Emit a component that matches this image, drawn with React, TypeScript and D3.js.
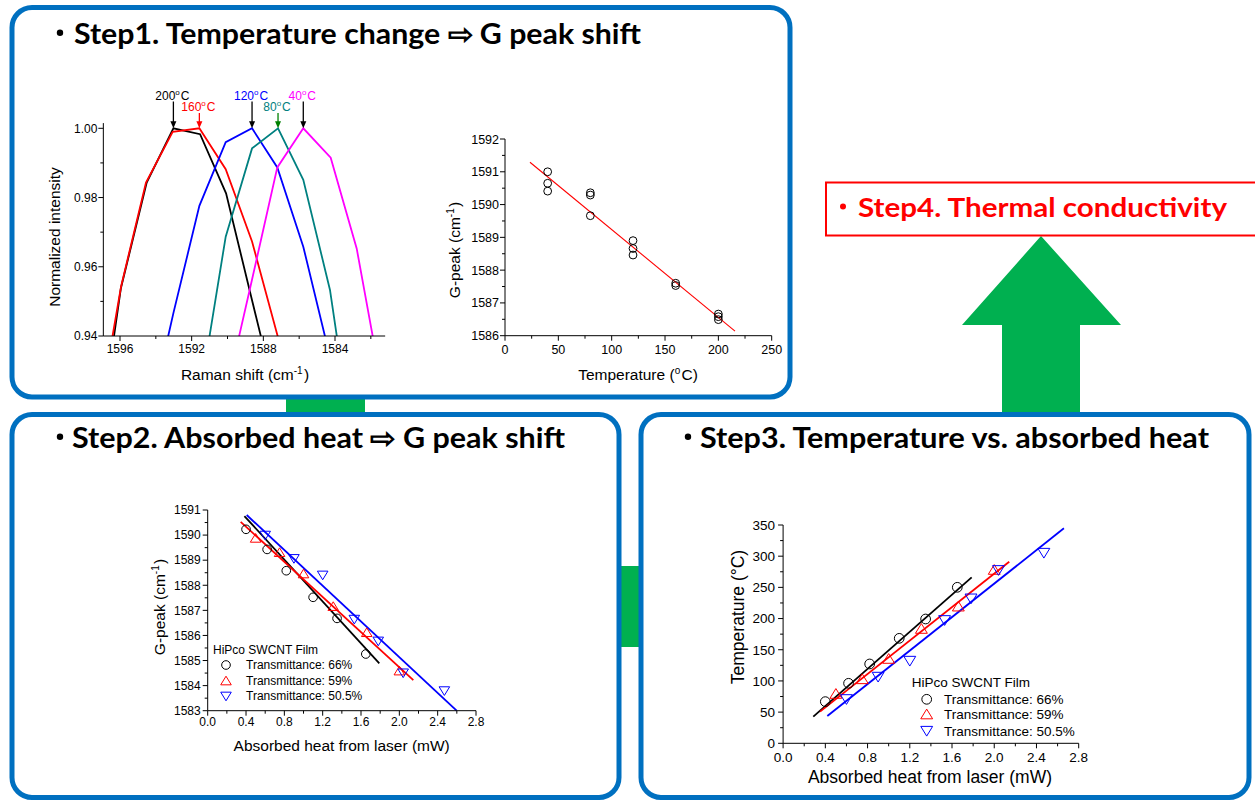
import React from "react";
import * as d3 from "d3";

// ---------------- DATA ----------------
// Step 1 (left): Raman spectra, [wavenumber, normalized intensity]
const ramanTemps = ["200", "160", "120", "80", "40"];
const raman200 = [[1597.5, 0.898], [1595.95, 0.9538], [1594.51, 0.9843], [1593.02, 1.0], [1591.53, 0.9983], [1590.08, 0.9812], [1588.6, 0.9497], [1587.1, 0.918]];
const raman160 = [[1597.4, 0.9105], [1595.94, 0.9543], [1594.55, 0.9843], [1593.06, 0.999], [1591.57, 1.0], [1590.1, 0.9882], [1588.63, 0.9673], [1587.15, 0.939]];
const raman120 = [[1594.5, 0.9128], [1593.02, 0.9466], [1591.57, 0.9776], [1590.1, 0.996], [1588.63, 1.0], [1587.22, 0.9887], [1585.77, 0.9658], [1584.32, 0.9348]];
const raman80 = [[1591.55, 0.9225], [1590.1, 0.9687], [1588.63, 0.9942], [1587.18, 1.0], [1585.77, 0.9851], [1584.28, 0.9533], [1582.8, 0.9015]];
const raman40 = [[1590.1, 0.923], [1588.63, 0.9563], [1587.22, 0.9887], [1585.77, 1.0], [1584.24, 0.9915], [1582.79, 0.9653], [1581.34, 0.9242]];
const ramanSeries = [raman200, raman160, raman120, raman80, raman40];
const ramanXTicks = [1596, 1592, 1588, 1584];
const ramanXMinor = [1594, 1590, 1586, 1582];
const ramanXExtent = [1596.93, 1581.2];
const ramanYTicks = [0.94, 0.96, 0.98, 1.0];
const ramanYMinor = [0.95, 0.97, 0.99];
const ramanYExtent = [0.94, 1.0015];

// Step 1 (right): G-peak vs temperature
const calTemp = [40, 40, 40, 80, 80, 80, 120, 120, 120, 160, 160, 200, 200, 200];
const calPeak = [1591.0, 1590.65, 1590.41, 1590.36, 1590.29, 1589.66, 1588.9, 1588.66, 1588.46, 1587.6, 1587.53, 1586.66, 1586.58, 1586.49];
const calFitTemp = [23.4, 215.6];
const calFitPeak = [1591.29, 1586.14];
const calXTicks = [0, 50, 100, 150, 200, 250];
const calXMinor = [25, 75, 125, 175, 225];
const calYTicks = [1586, 1587, 1588, 1589, 1590, 1591, 1592];
const calYMinor = [1586.5, 1587.5, 1588.5, 1589.5, 1590.5, 1591.5];

// Step 2 & 3: absorbed heat (mW)
const legendNames = ["Transmittance: 66%", "Transmittance: 59%", "Transmittance: 50.5%"];
const power66 = [0.4, 0.62, 0.82, 1.1, 1.35, 1.65];
const power59 = [0.5, 0.75, 1.0, 1.31, 1.66, 2.0];
const power50 = [0.6, 0.9, 1.2, 1.53, 1.78, 2.04, 2.47];
// Step 2: G-peak
const peak66 = [1590.23, 1589.43, 1588.58, 1587.52, 1586.68, 1585.26];
const peak59 = [1589.87, 1589.3, 1588.45, 1587.15, 1586.11, 1584.58];
const peak50 = [1590.0, 1589.07, 1588.41, 1586.65, 1585.78, 1584.51, 1583.8];
const fitPeakP66 = [0.383, 1.791], fitPeakG66 = [1590.76, 1584.89];
const fitPeakP59 = [0.344, 2.146], fitPeakG59 = [1590.53, 1584.22];
const fitPeakP50 = [0.407, 2.598], fitPeakG50 = [1590.8, 1583.0];
const heatTicks = [0, 0.4, 0.8, 1.2, 1.6, 2.0, 2.4, 2.8];
const heatMinor = [0.2, 0.6, 1.0, 1.4, 1.8, 2.2, 2.6];
const peak2Ticks = [1583, 1584, 1585, 1586, 1587, 1588, 1589, 1590, 1591];
const peak2Minor = [1583.5, 1584.5, 1585.5, 1586.5, 1587.5, 1588.5, 1589.5, 1590.5];
// Step 3: temperature
const temp66 = [66.8, 96.2, 127.2, 168.3, 199.3, 250.1];
const temp59 = [79.1, 102.6, 135.2, 183.3, 219.1, 277.9];
const temp50 = [71, 106.9, 132.5, 197.7, 232.4, 277.9, 305.6];
const fitTempP66 = [0.286, 1.786], fitTempT66 = [42.7, 266.1];
const fitTempP59 = [0.35, 2.142], fitTempT59 = [50.8, 291.2];
const fitTempP50 = [0.419, 2.66], fitTempT50 = [43.8, 344.7];
const tempTicks = [0, 50, 100, 150, 200, 250, 300, 350];
const tempMinor = [25, 75, 125, 175, 225, 275, 325];

// ---------------- STYLE ----------------
const FONT = "'Liberation Sans', Arial, sans-serif";
const TFONT = "Lato, Carlito, Calibri, sans-serif";
const BLUE = "#0070C0";
const GREEN = "#00B050";
const ramanColors = ["#000000", "#FF0000", "#0000FF", "#008080", "#FF00FF"];
const ramanArrowColors = ["#000000", "#FF0000", "#000000", "#008000", "#000000"];
const seriesColors = ["#000000", "#FF0000", "#0000FF"];

// ---------------- SCALES ----------------
const xA = d3.scaleLinear().domain([1596, 1584]).range([120, 335]);
const yA = d3.scaleLinear().domain([0.94, 1.0]).range([336, 128.3]);
const xB = d3.scaleLinear().domain([0, 250]).range([505, 771.7]);
const yB = d3.scaleLinear().domain([1586, 1592]).range([335.7, 139]);
const xC = d3.scaleLinear().domain([0, 2.8]).range([207.7, 476]);
const yC = d3.scaleLinear().domain([1583, 1591]).range([710.7, 510]);
const xD = d3.scaleLinear().domain([0, 2.8]).range([783.1, 1078.7]);
const yD = d3.scaleLinear().domain([0, 350]).range([743.3, 525]);

function AxisBottom({ sx, sy, ticks, minor, fmt, fs, off }: any) {
  const y = sy.range()[0];
  const d = sx.range();
  return (
    <g stroke="#000" strokeWidth={1}>
      <line x1={Math.min(...d)} x2={Math.max(...d)} y1={y} y2={y} />
      {ticks.map((t: number) => (
        <line key={"M" + t} x1={sx(t)} x2={sx(t)} y1={y} y2={y + 5} />
      ))}
      {minor.map((t: number) => (
        <line key={"m" + t} x1={sx(t)} x2={sx(t)} y1={y} y2={y + 3} />
      ))}
      {ticks.map((t: number) => (
        <text key={"l" + t} x={sx(t)} y={y + off + fs * 0.36} textAnchor="middle" fontSize={fs} fontFamily={FONT} stroke="none" fill="#000">
          {fmt(t)}
        </text>
      ))}
    </g>
  );
}

function AxisLeft({ sx, sy, ticks, minor, fmt, fs, off, top }: any) {
  const x = sx.range()[0];
  const y0 = sy.range()[0];
  const y1 = top !== undefined ? sy(top) : sy.range()[1];
  return (
    <g stroke="#000" strokeWidth={1}>
      <line x1={x} x2={x} y1={y0} y2={y1} />
      {ticks.map((t: number) => (
        <line key={"M" + t} x1={x - 5} x2={x} y1={sy(t)} y2={sy(t)} />
      ))}
      {minor.map((t: number) => (
        <line key={"m" + t} x1={x - 3} x2={x} y1={sy(t)} y2={sy(t)} />
      ))}
      {ticks.map((t: number) => (
        <text key={"l" + t} x={x - off} y={sy(t) + fs * 0.36} textAnchor="end" fontSize={fs} fontFamily={FONT} stroke="none" fill="#000">
          {fmt(t)}
        </text>
      ))}
    </g>
  );
}

function Marker({ kind, x, y, s, color }: any) {
  if (kind === 0) return <circle cx={x} cy={y} r={s * 0.9} fill="none" stroke={color} strokeWidth={1} />;
  const d =
    kind === 1
      ? `M${x},${y - s} L${x + s * 1.1},${y + s * 0.8} L${x - s * 1.1},${y + s * 0.8}Z`
      : `M${x},${y + s} L${x + s * 1.1},${y - s * 0.8} L${x - s * 1.1},${y - s * 0.8}Z`;
  return <path d={d} fill="none" stroke={color} strokeWidth={1} />;
}

function Sup({ children, fs, dy }: any) {
  return (
    <>
      <tspan dy={-dy} fontSize={fs}>{children}</tspan>
      <tspan dy={dy}>{"\u200A"}</tspan>
    </>
  );
}

function RamanChart() {
  const line = d3.line<number[]>().x((d) => xA(d[0])).y((d) => yA(d[1]));
  const top = yA(ramanYExtent[1]);
  return (
    <g>
      <defs>
        <clipPath id="clipA">
          <rect x={xA(ramanXExtent[0])} y={top - 10} width={xA(ramanXExtent[1]) - xA(ramanXExtent[0])} height={yA(0.94) - top + 10} />
        </clipPath>
      </defs>
      <g clipPath="url(#clipA)">
        {ramanSeries.map((s, i) => (
          <path key={i} d={line(s) || ""} fill="none" stroke={ramanColors[i]} strokeWidth={1.8} strokeLinejoin="miter" />
        ))}
      </g>
      <line x1={xA(ramanXExtent[0])} x2={xA(ramanXExtent[1])} y1={yA(0.94)} y2={yA(0.94)} stroke="#000" />
      <g stroke="#000">
        {ramanXTicks.map((t) => (
          <line key={t} x1={xA(t)} x2={xA(t)} y1={yA(0.94)} y2={yA(0.94) + 5} />
        ))}
        {ramanXMinor.map((t) => (
          <line key={t} x1={xA(t)} x2={xA(t)} y1={yA(0.94)} y2={yA(0.94) + 3} />
        ))}
      </g>
      {ramanXTicks.map((t) => (
        <text key={t} x={xA(t)} y={yA(0.94) + 13 + 4.3} textAnchor="middle" fontSize={12} fontFamily={FONT}>{t}</text>
      ))}
      <g stroke="#000">
        <line x1={xA(ramanXExtent[0])} x2={xA(ramanXExtent[0])} y1={yA(0.94)} y2={top} />
        {ramanYTicks.map((t) => (
          <line key={t} x1={xA(ramanXExtent[0]) - 5} x2={xA(ramanXExtent[0])} y1={yA(t)} y2={yA(t)} />
        ))}
        {ramanYMinor.map((t) => (
          <line key={t} x1={xA(ramanXExtent[0]) - 3} x2={xA(ramanXExtent[0])} y1={yA(t)} y2={yA(t)} />
        ))}
      </g>
      {ramanYTicks.map((t) => (
        <text key={t} x={xA(ramanXExtent[0]) - 6} y={yA(t) + 4.3} textAnchor="end" fontSize={12} fontFamily={FONT}>{t.toFixed(2)}</text>
      ))}
      <text transform={`translate(55,237) rotate(-90)`} textAnchor="middle" fontSize={15.5} fontFamily={FONT} dy={5}>Normalized intensity</text>
      <text x={245} y={380} textAnchor="middle" fontSize={15.5} fontFamily={FONT}>
        Raman shift (cm<Sup fs={10} dy={6}>-1</Sup>)
      </text>
      {ramanSeries.map((s, i) => {
        const peak = d3.greatest(s, (d) => d[1])!;
        const px = xA(peak[0]);
        const high = i % 2 === 0;
        const y0 = high ? 101.5 : 113;
        const yEnd = yA(peak[1]);
        return (
          <g key={i}>
            <line x1={px} x2={px} y1={y0} y2={yEnd - 5} stroke={ramanArrowColors[i]} strokeWidth={1.3} />
            <path d={`M${px - 3},${yEnd - 7} L${px + 3},${yEnd - 7} L${px},${yEnd}Z`} fill={ramanArrowColors[i]} />
            <text x={px - 1} y={high ? 99.5 : 111} textAnchor="middle" fontSize={12} fontFamily={FONT} fill={ramanColors[i]}>
              {ramanTemps[i]}
              <Sup fs={8} dy={5}>o</Sup>C
            </text>
          </g>
        );
      })}
    </g>
  );
}

function CalChart() {
  return (
    <g>
      <line x1={xB(calFitTemp[0])} y1={yB(calFitPeak[0])} x2={xB(calFitTemp[1])} y2={yB(calFitPeak[1])} stroke="#FF0000" strokeWidth={1.1} />
      {calTemp.map((t, i) => (
        <circle key={i} cx={xB(t)} cy={yB(calPeak[i])} r={3.9} fill="none" stroke="#000" strokeWidth={1} />
      ))}
      <AxisBottom sx={xB} sy={yB} ticks={calXTicks} minor={calXMinor} fmt={(t: number) => String(t)} fs={12.5} off={14} />
      <AxisLeft sx={xB} sy={yB} ticks={calYTicks} minor={calYMinor} fmt={(t: number) => String(t)} fs={12.5} off={6} />
      <text transform={`translate(455,250) rotate(-90)`} textAnchor="middle" fontSize={15.5} fontFamily={FONT} dy={5}>
        G-peak (cm<Sup fs={10} dy={6}>-1</Sup>)
      </text>
      <text x={638} y={380} textAnchor="middle" fontSize={15.5} fontFamily={FONT}>
        Temperature (<Sup fs={10} dy={6}>o</Sup>C)
      </text>
    </g>
  );
}

function HeatChart({ sx, sy, ys, fits, yTicks, yMinor, ms, fs, tfs, yTitle, yTitlePos, xTitlePos, legend, offs }: any) {
  const powers = [power66, power59, power50];
  return (
    <g>
      {fits.map((f: number[][], i: number) => (
        <line key={i} x1={sx(f[0][0])} y1={sy(f[1][0])} x2={sx(f[0][1])} y2={sy(f[1][1])} stroke={seriesColors[i]} strokeWidth={1.8} />
      ))}
      {ys.map((arr: number[], i: number) =>
        arr.map((v, j) => <Marker key={i + "-" + j} kind={i} x={sx(powers[i][j])} y={sy(v)} s={ms} color={seriesColors[i]} />)
      )}
      <AxisBottom sx={sx} sy={sy} ticks={heatTicks} minor={heatMinor} fmt={(t: number) => t.toFixed(1)} fs={fs} off={offs[0]} />
      <AxisLeft sx={sx} sy={sy} ticks={yTicks} minor={yMinor} fmt={(t: number) => String(t)} fs={fs} off={offs[1]} />
      <text transform={`translate(${yTitlePos[0]},${yTitlePos[1]}) rotate(-90)`} textAnchor="middle" fontSize={tfs} fontFamily={FONT} dy={tfs * 0.35}>
        {yTitle}
      </text>
      <text x={xTitlePos[0]} y={xTitlePos[1] + tfs * 0.35} textAnchor="middle" fontSize={tfs} fontFamily={FONT}>
        Absorbed heat from laser (mW)
      </text>
      <text x={legend.x} y={legend.ty + legend.fs * 0.36} fontSize={legend.fs} fontFamily={FONT}>HiPco SWCNT Film</text>
      {legendNames.map((n, i) => (
        <g key={n}>
          <Marker kind={i} x={legend.mx} y={legend.rows[i]} s={ms} color={seriesColors[i]} />
          <text x={legend.tx} y={legend.rows[i] + legend.fs * 0.36} fontSize={legend.fs} fontFamily={FONT}>{n}</text>
        </g>
      ))}
    </g>
  );
}

function Title({ x, y, text, len, fs, color, bx, br }: any) {
  return (
    <g fill={color} fontFamily={TFONT} fontWeight={700} fontSize={fs}>
      <circle cx={bx} cy={y - fs * 0.4} r={br} />
      <text x={x} y={y} textLength={len} lengthAdjust="spacingAndGlyphs">{text}</text>
    </g>
  );
}

export default function App() {
  return (
    <svg width={1255} height={801} style={{ position: "absolute", left: 0, top: 0, display: "block", background: "#fff" }}>
      <rect x={0} y={0} width={1255} height={801} fill="#fff" />
      {/* connectors & arrow */}
      <rect x={286} y={398} width={79} height={15} fill={GREEN} />
      <rect x={621} y={566} width={19} height={81} fill={GREEN} />
      <path d="M1041,236 L1121,325 L1080,325 L1080,413 L1002,413 L1002,325 L962,325 Z" fill={GREEN} />
      {/* boxes */}
      <rect x={12} y={7.5} width={778} height={389.5} rx={20} fill="none" stroke={BLUE} strokeWidth={5} />
      <rect x={12} y={414.5} width={607} height={383} rx={20} fill="none" stroke={BLUE} strokeWidth={5} />
      <rect x={641} y={414.5} width={608} height={383} rx={20} fill="none" stroke={BLUE} strokeWidth={5} />
      <rect x={826} y={182.5} width={440} height={53} fill="#fff" stroke="#FF0000" strokeWidth={2} />
      <Title bx={60} br={3.2} x={74} y={44} len={567} fs={28} color="#000" text="Step1. Temperature change ⇨ G peak shift" />
      <Title bx={60} br={3.2} x={72} y={448} len={493} fs={28} color="#000" text="Step2. Absorbed heat ⇨ G peak shift" />
      <Title bx={688} br={3.2} x={700} y={448} len={509} fs={28} color="#000" text="Step3. Temperature vs. absorbed heat" />
      <Title bx={843} br={3} x={858} y={217} len={369} fs={26} color="#FF0000" text="Step4. Thermal conductivity" />
      <RamanChart />
      <CalChart />
      <HeatChart
        sx={xC}
        sy={yC}
        ys={[peak66, peak59, peak50]}
        fits={[[fitPeakP66, fitPeakG66], [fitPeakP59, fitPeakG59], [fitPeakP50, fitPeakG50]]}
        yTicks={peak2Ticks}
        yMinor={peak2Minor}
        ms={4.8}
        fs={12}
        tfs={15.5}
        offs={[11, 7]}
        yTitle={<>G-peak (cm<Sup fs={10} dy={6}>-1</Sup>)</>}
        yTitlePos={[160, 607]}
        xTitlePos={[341.7, 746]}
        legend={{ x: 213, ty: 650, mx: 226, tx: 246, rows: [665, 681, 696], fs: 12 }}
      />
      <HeatChart
        sx={xD}
        sy={yD}
        ys={[temp66, temp59, temp50]}
        fits={[[fitTempP66, fitTempT66], [fitTempP59, fitTempT59], [fitTempP50, fitTempT50]]}
        yTicks={tempTicks}
        yMinor={tempMinor}
        ms={5.4}
        fs={13.5}
        tfs={17.5}
        offs={[13.4, 8]}
        yTitle={"Temperature (°C)"}
        yTitlePos={[738, 617]}
        xTitlePos={[930, 776.7]}
        legend={{ x: 911.7, ty: 681.7, mx: 926.7, tx: 944, rows: [699.3, 714.5, 730.7], fs: 13.5 }}
      />
    </svg>
  );
}
